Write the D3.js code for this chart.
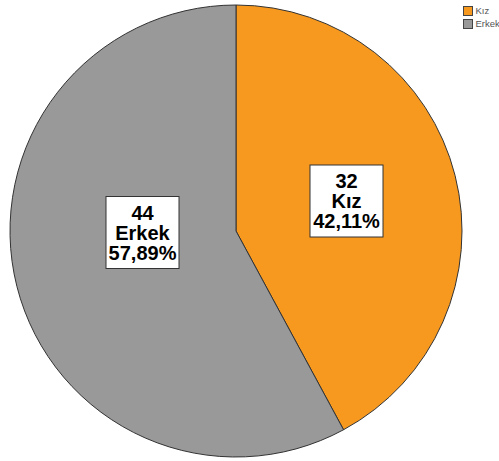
<!DOCTYPE html>
<html>
<head>
<meta charset="utf-8">
<script src="https://cdn.jsdelivr.net/npm/d3@7"></script>
<style>
  html, body { margin: 0; padding: 0; background: #fff; }
  svg { display: block; }
</style>
</head>
<body>
<svg id="chart" width="499" height="461"></svg>
<script>
const categories = ["Kız", "Erkek"];
const counts = [32, 44];
const percentLabels = ["42,11%", "57,89%"];
const colors = ["#F7991F", "#999999"];

const W = 499, H = 461;
const cx = 236, cy = 231, R = 226;
// label box centres relative to pie centre (layout only)
const labelOffsets = [[110.5, -30], [-93.5, 1.5]];

const svg = d3.select("#chart");
const g = svg.append("g").attr("transform", `translate(${cx},${cy})`);

const pie = d3.pie().sort(null).value(d => d).startAngle(0).endAngle(2 * Math.PI);
const arcs = pie(counts);
const arc = d3.arc().innerRadius(0).outerRadius(R);

g.selectAll("path.slice").data(arcs).enter().append("path")
  .attr("class", "slice")
  .attr("d", arc)
  .attr("fill", (d, i) => colors[i])
  .attr("stroke", "#333")
  .attr("stroke-width", 1);

const fontSize = 20, lineH = 20, boxW = 73, boxH = 72;
arcs.forEach((d, i) => {
  const [ox, oy] = labelOffsets[i];
  const lg = g.append("g").attr("transform", `translate(${ox},${oy})`);
  lg.append("rect")
    .attr("x", -boxW / 2).attr("y", -boxH / 2)
    .attr("width", boxW).attr("height", boxH)
    .attr("fill", "#fff").attr("stroke", "#333").attr("stroke-width", 1);
  const lines = [String(counts[i]), categories[i], percentLabels[i]];
  lines.forEach((t, j) => {
    lg.append("text")
      .attr("x", 0)
      .attr("y", (j - 1) * lineH)
      .attr("dy", "0.36em")
      .attr("text-anchor", "middle")
      .attr("font-family", "Liberation Sans, Arial, sans-serif")
      .attr("font-weight", "bold")
      .attr("font-size", fontSize)
      .attr("fill", "#000")
      .text(t);
  });
});

// legend
const legend = svg.append("g").attr("transform", "translate(463,6)");
categories.forEach((c, i) => {
  const row = legend.append("g").attr("transform", `translate(0,${i * 13})`);
  row.append("rect").attr("x", 0.5).attr("y", 0.5).attr("width", 9).attr("height", 9)
    .attr("fill", colors[i]).attr("stroke", "#444").attr("stroke-width", 1);
  row.append("text").attr("x", 12.5).attr("y", 5).attr("dy", "0.35em")
    .attr("font-family", "Liberation Sans, Arial, sans-serif")
    .attr("font-size", 9.5).attr("fill", "#555").text(c);
});
</script>
</body>
</html>
